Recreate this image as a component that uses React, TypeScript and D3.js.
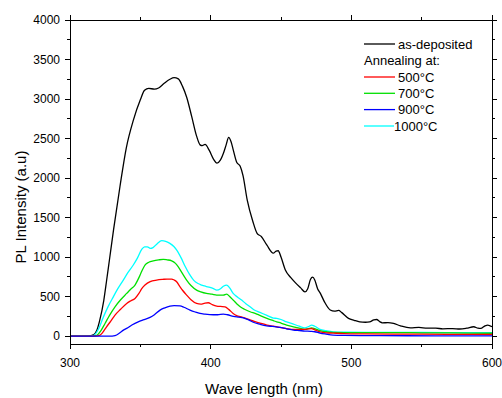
import React from "react";
import * as d3 from "d3";

type Pt = [number, number];

const asDeposited: Pt[] = [
  [300, 0], [310, 0], [314, 3], [317, 20], [319, 70], [321, 190], [324, 450], [326, 700], [328, 960],
  [331, 1350], [335.5, 1890], [340, 2380], [345, 2730], [350, 2990], [353, 3110], [356, 3135], [360, 3125],
  [363, 3140], [367, 3200], [371, 3250], [374, 3270], [377, 3255], [380, 3160], [383, 3020], [386.5, 2780],
  [390, 2530], [392.5, 2420], [394, 2410], [396, 2425], [399, 2350], [402, 2240], [404.5, 2190], [407, 2230],
  [409, 2310], [411, 2420], [412.8, 2515], [414.5, 2460], [416, 2360], [418.5, 2200], [421, 2150], [423, 2030],
  [426, 1720], [430, 1450], [433, 1300], [436, 1260], [440, 1150], [444.5, 1050], [446.5, 1075], [448, 1080],
  [450, 1000], [453, 840], [457, 740], [460, 680], [464, 610], [467, 560], [469, 600], [471, 720], [472.5, 745],
  [474, 710], [476, 600], [478, 540], [481, 430], [485, 330], [488, 315], [491, 325], [493, 300], [498, 225],
  [502, 200], [506, 180], [510, 175], [513, 180], [516, 205], [518, 210], [520, 185], [522, 168], [526, 170],
  [530, 160], [535, 130], [542, 105], [548, 110], [554, 100], [560, 100], [565, 92], [572, 95], [577, 90],
  [582, 100], [587, 118], [590, 100], [592, 97], [595, 130], [597, 140], [600, 118],
];

const anneal500: Pt[] = [
  [300, 0], [318, 0], [321, 8], [323, 40], [326, 118], [329, 190], [332, 266], [336, 340], [340.3, 413],
  [343, 445], [346.2, 477], [349, 540], [351, 600], [353.3, 646], [357, 690], [361.6, 709], [366, 718],
  [369, 722], [372.3, 722], [374, 710], [375.8, 688], [378, 630], [380, 580], [382.9, 519], [386, 460],
  [390, 413], [393, 405], [396, 418], [398.3, 422], [401, 400], [404.3, 380], [407, 375], [410.2, 371],
  [413, 335], [416, 287], [418.5, 260], [421, 245], [425, 225], [428, 205], [431, 185], [435, 165],
  [440, 140], [444.6, 125], [449, 110], [454, 95], [458.8, 85], [463, 85], [467, 85], [469.5, 92],
  [471.8, 95], [474, 80], [477.7, 54], [482, 42], [487, 38], [495, 32], [510, 28], [530, 25], [550, 24],
  [570, 22], [600, 20],
];

const anneal700: Pt[] = [
  [300, 0], [316, 0], [319, 10], [322, 70], [324.9, 160], [328, 260], [332, 371], [336, 460], [340.3, 540],
  [343, 590], [346.2, 646], [349, 740], [351, 820], [353.3, 899], [356, 935], [359.2, 953], [363, 965],
  [366.3, 971], [369, 965], [372.3, 953], [375, 920], [377, 877], [380, 790], [382.9, 709], [386, 640],
  [390, 582], [393, 560], [397, 540], [401, 530], [404.3, 519], [407, 518], [409, 519], [411.4, 532],
  [413.5, 500], [416, 456], [418.5, 410], [421, 371], [424, 340], [428, 308], [432, 285], [435, 262],
  [440, 225], [444.6, 195], [447, 180], [450, 165], [454, 140], [458.8, 118], [463, 100], [467, 85],
  [469.5, 95], [471.8, 105], [474, 95], [477.7, 68], [482, 55], [487, 47], [495, 45], [510, 45], [530, 45],
  [550, 42], [570, 40], [600, 36],
];

const anneal900: Pt[] = [
  [300, 0], [330, 0], [332, 5], [335.5, 42], [338, 75], [340.3, 97], [344, 140], [348.5, 181], [352, 205],
  [356.9, 236], [360, 270], [364, 329], [367, 355], [371.1, 380], [374, 385], [378.2, 382], [381, 365],
  [385.3, 329], [389, 305], [392.4, 287], [396, 278], [401.9, 270], [405, 270], [409, 278], [412, 270],
  [416.1, 250], [420, 240], [423.2, 232], [427, 205], [430.3, 175], [435, 150], [439.8, 130], [444, 122],
  [449.3, 110], [454, 92], [458.8, 76], [463, 70], [467, 64], [471, 60], [474, 55], [477.7, 38], [482, 25],
  [487, 13], [495, 8], [520, 5], [560, 4], [600, 4],
];

const anneal1000: Pt[] = [
  [300, 0], [314, 0], [317, 10], [320, 80], [323.7, 240], [327, 370], [330.8, 497], [334, 600],
  [337.9, 709], [341, 800], [345, 900], [348, 990], [351, 1097], [353, 1130], [355, 1130], [357, 1110],
  [359, 1120], [362, 1170], [365.2, 1207], [368, 1200], [371, 1173], [374, 1130], [376, 1085], [379, 990],
  [382, 877], [385, 780], [388, 705], [391, 665], [393.6, 646], [396.5, 630], [399.5, 616], [402, 600],
  [404.3, 582], [407, 600], [409, 630], [411.4, 646], [413.5, 610], [416, 540], [419, 495], [422, 456],
  [425, 410], [428, 371], [431, 330], [435, 300], [440, 262], [444.6, 228], [447, 224], [450, 210],
  [454, 180], [458.8, 152], [463, 125], [467, 105], [469.5, 120], [471.8, 139], [474, 125], [477.7, 85],
  [482, 68], [487, 54], [495, 50], [510, 48], [530, 46], [550, 46], [570, 45], [600, 45],
];

const seriesNames = ["as-deposited", "500°C", "700°C", "900°C", "1000°C"];
const seriesColors = ["#000000", "#ff0000", "#00e000", "#0000ff", "#00ffff"];
const seriesData = [asDeposited, anneal500, anneal700, anneal900, anneal1000];
const drawOrder = [0, 4, 2, 1, 3];

const xMajorTicks = [300, 400, 500, 600];
const xMinorTicks = [350, 450, 550];
const yMajorTicks = [0, 500, 1000, 1500, 2000, 2500, 3000, 3500, 4000];
const yMinorTicks = [250, 750, 1250, 1750, 2250, 2750, 3250, 3750];

const xTitle = "Wave length (nm)";
const yTitle = "PL Intensity (a.u)";
const legendHeader = "Annealing at:";

const FONT = "'Liberation Sans', Arial, sans-serif";

export default function App() {
  const W = 502, H = 398;
  const L = 70, R = 492, T = 20, B = 344;
  const x = d3.scaleLinear().domain([300, 600]).range([L, R]);
  const y = d3.scaleLinear().domain([-100, 4000]).range([B, T]);
  const line = d3
    .line<Pt>()
    .x((d) => x(d[0]))
    .y((d) => y(d[1]))
    .curve(d3.curveMonotoneX);

  const axisColor = "#000";
  const major = 5, minor = 3;

  const legendX1 = 364, legendX2 = 395;
  const rowY = [44, 60.5, 77, 93.3, 109.6, 126];

  return (
    <svg width={W} height={H} style={{ position: "absolute", left: 0, top: 0, background: "#fff" }} fontFamily={FONT}>
      <rect x={0} y={0} width={W} height={H} fill="#fff" />
      {/* data */}
      <g clipPath="url(#clip)">
        {drawOrder.map((i) => (
          <path key={i} d={line(seriesData[i]) || ""} fill="none" stroke={seriesColors[i]} strokeWidth={1.3} />
        ))}
      </g>
      <defs>
        <clipPath id="clip">
          <rect x={L} y={T} width={R - L} height={B - T} />
        </clipPath>
      </defs>
      {/* frame */}
      <rect x={L} y={T} width={R - L} height={B - T} fill="none" stroke={axisColor} strokeWidth={1} shapeRendering="crispEdges" />
      {/* x ticks bottom and top */}
      {xMajorTicks.map((t) => (
        <g key={"xm" + t} shapeRendering="crispEdges">
          <line x1={x(t)} x2={x(t)} y1={B} y2={B + major} stroke={axisColor} />
          <line x1={x(t)} x2={x(t)} y1={T} y2={T - major} stroke={axisColor} />
          <text x={x(t)} y={366.5} textAnchor="middle" fontSize={12} fill="#000">{t}</text>
        </g>
      ))}
      {xMinorTicks.map((t) => (
        <g key={"xn" + t} shapeRendering="crispEdges">
          <line x1={x(t)} x2={x(t)} y1={B} y2={B + minor} stroke={axisColor} />
          <line x1={x(t)} x2={x(t)} y1={T} y2={T - minor} stroke={axisColor} />
        </g>
      ))}
      {/* y ticks left and right */}
      {yMajorTicks.map((t) => (
        <g key={"ym" + t} shapeRendering="crispEdges">
          <line x1={L} x2={L - major} y1={y(t)} y2={y(t)} stroke={axisColor} />
          <line x1={R} x2={R + major} y1={y(t)} y2={y(t)} stroke={axisColor} />
          <text x={60} y={y(t) + 4.3} textAnchor="end" fontSize={12} fill="#000">{t}</text>
        </g>
      ))}
      {yMinorTicks.map((t) => (
        <g key={"yn" + t} shapeRendering="crispEdges">
          <line x1={L} x2={L - minor} y1={y(t)} y2={y(t)} stroke={axisColor} />
          <line x1={R} x2={R + minor} y1={y(t)} y2={y(t)} stroke={axisColor} />
        </g>
      ))}
      {/* titles */}
      <text x={264} y={394} textAnchor="middle" fontSize={15} fill="#000">{xTitle}</text>
      <text transform={`translate(26,207) rotate(-90)`} textAnchor="middle" fontSize={15} fill="#000">{yTitle}</text>
      {/* legend */}
      <line x1={legendX1} x2={legendX2} y1={rowY[0]} y2={rowY[0]} stroke={seriesColors[0]} strokeWidth={1.3} />
      <text x={398} y={rowY[0] + 4.5} fontSize={13} fill="#000">{seriesNames[0]}</text>
      <text x={legendX1} y={rowY[1] + 4.5} fontSize={13} fill="#000">{legendHeader}</text>
      {[1, 2, 3, 4].map((i) => (
        <g key={"lg" + i}>
          <line x1={legendX1} x2={i === 4 ? 394 : legendX2} y1={rowY[i + 1]} y2={rowY[i + 1]} stroke={seriesColors[i]} strokeWidth={1.3} />
          <text x={i === 4 ? 394 : 398} y={rowY[i + 1] + 4.5} fontSize={13} fill="#000">{seriesNames[i]}</text>
        </g>
      ))}
    </svg>
  );
}
